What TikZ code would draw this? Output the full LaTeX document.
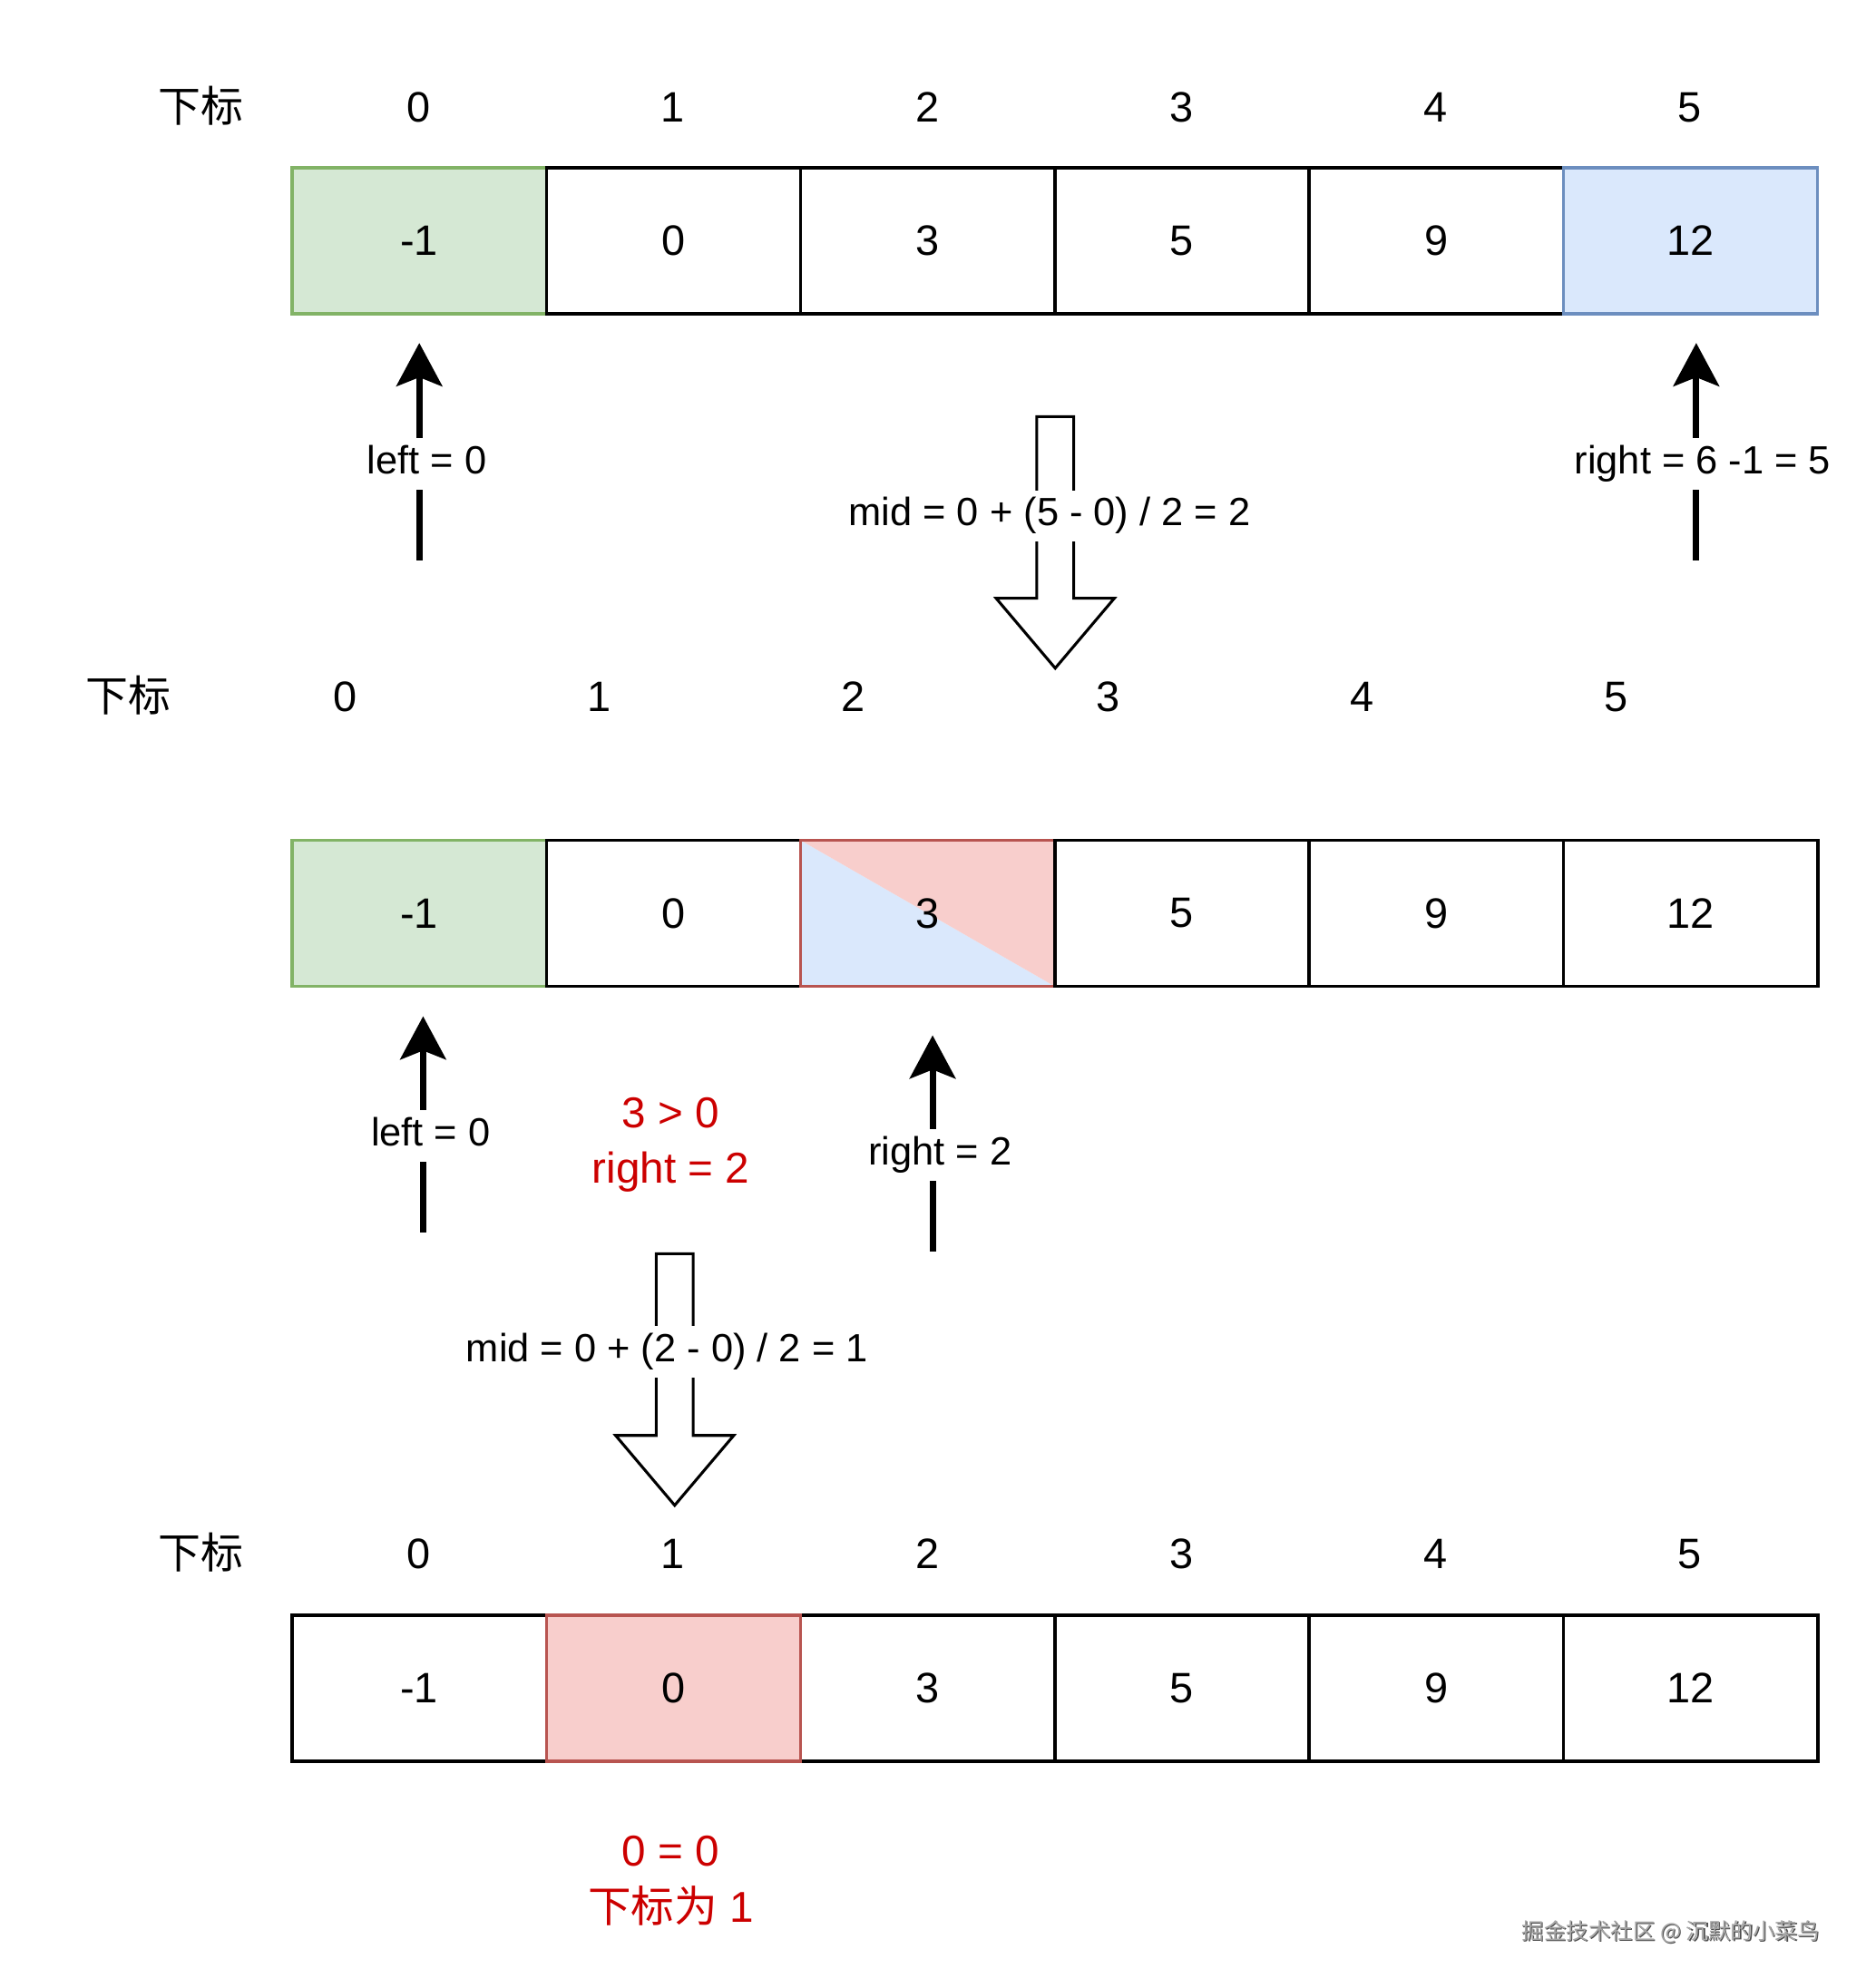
\documentclass[tikz,border=0pt]{standalone}
\usepackage{fontspec}
\setmainfont{Liberation Sans}
\newfontfamily\cjk{Noto Sans CJK SC}
\usetikzlibrary{arrows.meta}
\definecolor{gfill}{HTML}{D5E8D4}
\definecolor{gline}{HTML}{82B366}
\definecolor{bfill}{HTML}{DAE8FC}
\definecolor{bline}{HTML}{6C8EBF}
\definecolor{rfill}{HTML}{F8CECC}
\definecolor{rline}{HTML}{B85450}
\definecolor{redtext}{HTML}{CC0000}
\begin{document}
\begin{tikzpicture}[x=1pt,y=-1pt,
  cell/.style={draw=black, line width=2.6pt, minimum width=200.1pt, minimum height=115pt,
    inner sep=0pt, font=\fontsize{33.5}{40}\selectfont, anchor=center},
  greencell/.style={cell, draw=gline, fill=gfill, line width=2.4pt},
  bluecell/.style={cell, draw=bline, fill=bfill, line width=2.4pt},
  redcell/.style={cell, draw=rline, fill=rfill, line width=2.4pt},
  idx/.style={font=\fontsize{33.5}{40}\selectfont, inner sep=0pt, anchor=base},
  lbl/.style={font=\fontsize{31}{37}\selectfont, fill=white, inner xsep=1pt, inner ysep=6pt,
    text height=22pt, text depth=6.5pt, anchor=base},
  redtxt/.style={font=\fontsize{34}{40}\selectfont, text=redtext, inner sep=0pt, anchor=base},
  ptr/.style={line width=5pt, -{Stealth[length=34pt,width=36pt,inset=7pt]}},
  blk/.style={draw=black, line width=2.2pt, fill=white, line join=miter}
]
\useasboundingbox[fill=white] (0,0) rectangle (1468,1565);

% ---------- row 1 ----------
\node[idx] (h1) at (158,96) {\cjk 下标};
\foreach \t [count=\i from 0] in {0,1,2,3,4,5}
  \node[idx] (i1\i) at ({329.5+200.1*\i},96) {\t};
\node[greencell] (a0) at (330,189.5) {-1};
\node[cell] (a1) at (530.1,189.5) {0};
\node[cell] (a2) at (730.2,189.5) {3};
\node[cell] (a3) at (930.3,189.5) {5};
\node[cell] (a4) at (1130.4,189.5) {9};
\node[bluecell] (a5) at (1330.5,189.5) {12};

\coordinate (la1) at (330,441);
\coordinate (lb1) at (330,270);
\draw[ptr] (la1) -- (lb1);
\node[lbl] (ll1) at (336,373) {left = 0};

\coordinate (ra1) at (1335,441);
\coordinate (rb1) at (1335,270);
\draw[ptr] (ra1) -- (rb1);
\node[lbl] (rl1) at (1340,373) {right = 6 -1 = 5};

\draw[blk] (816,328) -- (845,328) -- (845,471) -- (877,471) -- (830.5,526) -- (784,471) -- (816,471) -- cycle;
\node[lbl] (ml1) at (826,414) {mid = 0 + (5 - 0) / 2 = 2};

% ---------- row 2 ----------
\node[idx] (h2) at (101,560) {\cjk 下标};
\foreach \t [count=\i from 0] in {0,1,2,3,4,5}
  \node[idx] (i2\i) at ({271.5+200.1*\i},560) {\t};
\node[greencell] (b0) at (330,719) {-1};
\node[cell] (b1) at (530.1,719) {0};
\node[cell, draw=rline, line width=1.8pt,
  path picture={
    \fill[bfill] (path picture bounding box.north west) -- (path picture bounding box.south west)
      -- (path picture bounding box.south east) -- cycle;
    \fill[rfill] (path picture bounding box.north west) -- (path picture bounding box.north east)
      -- (path picture bounding box.south east) -- cycle;
  }] (b2) at (730.2,719) {3};
\node[cell] (b3) at (930.3,719) {5};
\node[cell] (b4) at (1130.4,719) {9};
\node[cell] (b5) at (1330.5,719) {12};

\coordinate (la2) at (333,970);
\coordinate (lb2) at (333,800);
\draw[ptr] (la2) -- (lb2);
\node[lbl] (ll2) at (339,902) {left = 0};

\node[redtxt] (cmp1) at (528,888) {3 > 0};
\node[redtxt] (cmp2) at (528,931) {right = 2};

\coordinate (ra2) at (734,985);
\coordinate (rb2) at (734,815);
\draw[ptr] (ra2) -- (rb2);
\node[lbl] (rl2) at (740,917) {right = 2};

\draw[blk] (516.5,987) -- (545.5,987) -- (545.5,1130) -- (577.5,1130) -- (531,1185) -- (484.5,1130) -- (516.5,1130) -- cycle;
\node[lbl] (ml2) at (525,1072) {mid = 0 + (2 - 0) / 2 = 1};

% ---------- row 3 ----------
\node[idx] (h3) at (158,1235) {\cjk 下标};
\foreach \t [count=\i from 0] in {0,1,2,3,4,5}
  \node[idx] (i3\i) at ({329.5+200.1*\i},1235) {\t};
\node[cell] (c0) at (330,1329) {-1};
\node[cell] (c2) at (730.2,1329) {3};
\node[cell] (c3) at (930.3,1329) {5};
\node[cell] (c4) at (1130.4,1329) {9};
\node[cell] (c5) at (1330.5,1329) {12};
\node[redcell] (c1) at (530.1,1329) {0};

\node[redtxt] (res1) at (528,1469) {0 = 0};
\node[redtxt] (res2) at (528,1513) {{\cjk 下标为} 1};

% ---------- watermark ----------
\node[inner sep=0pt, anchor=base, font=\cjk\fontsize{17.5}{20}\selectfont, text=black!70] (wm0) at (1315.8,1527.8) {掘金技术社区 @ 沉默的小菜鸟};
\node[inner sep=0pt, anchor=base, font=\cjk\fontsize{17.5}{20}\selectfont, text=black!35] (wm) at (1315,1527) {掘金技术社区 @ 沉默的小菜鸟};
\end{tikzpicture}
\end{document}
